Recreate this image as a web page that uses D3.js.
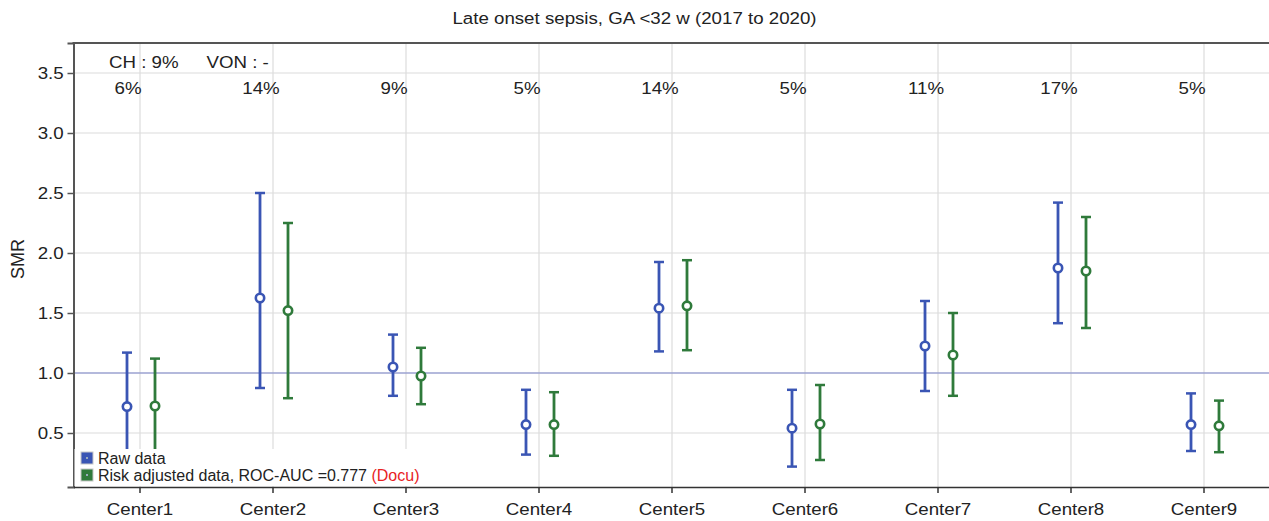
<!DOCTYPE html>
<html><head><meta charset="utf-8">
<script src="https://cdn.jsdelivr.net/npm/d3@7"></script>
<style>
body{margin:0;background:#fff;}
text{font-family:"Liberation Sans",Arial,sans-serif;fill:#222;}
</style></head>
<body>
<svg id="chart" width="1269" height="521"></svg>
<script>
const categories = ["Center1","Center2","Center3","Center4","Center5","Center6","Center7","Center8","Center9"];
const rawSMR   = [0.72, 1.625, 1.05, 0.57, 1.54, 0.54, 1.225, 1.875, 0.57];
const rawLow   = [0.30, 0.875, 0.81, 0.32, 1.18, 0.22, 0.85, 1.415, 0.35];
const rawHigh  = [1.17, 2.50, 1.32, 0.86, 1.925, 0.86, 1.60, 2.42, 0.83];
const adjSMR   = [0.725, 1.52, 0.975, 0.57, 1.56, 0.575, 1.15, 1.85, 0.56];
const adjLow   = [0.30, 0.79, 0.74, 0.31, 1.19, 0.275, 0.81, 1.375, 0.34];
const adjHigh  = [1.12, 2.25, 1.21, 0.84, 1.94, 0.90, 1.50, 2.30, 0.77];
const pctLabels = ["6%","14%","9%","5%","14%","5%","11%","17%","5%"];
const yTicks = [0.5,1.0,1.5,2.0,2.5,3.0,3.5];

const svg = d3.select("#chart");
const pLeft = 73.5, pTop = 43, pBottom = 487, pRight = 1270.5;
const FS = 17, SX = 1.1;

const x = d3.scaleBand().domain(categories).range([pLeft, pRight]);
const y = d3.scaleLinear().domain([0.05, 3.75]).range([pBottom, pTop]);
const cx = c => x(c) + x.bandwidth()/2;

function label(px, py, str, anchor, size, sx){
  return svg.append("g").attr("transform",`translate(${px},${py})`)
    .append("text").attr("text-anchor", anchor||"start")
    .attr("transform",`scale(${sx||SX},1)`)
    .style("font-size",(size||FS)+"px").attr("xml:space","preserve").text(str);
}

// title
label(634.5, 24, "Late onset sepsis, GA <32 w (2017 to 2020)", "middle");

// gridlines
svg.append("g").selectAll("line").data(yTicks).join("line")
  .attr("x1", pLeft).attr("x2", pRight).attr("y1", d=>y(d)).attr("y2", d=>y(d))
  .attr("stroke","#dcdcdc").attr("stroke-width",1.2);
svg.append("g").selectAll("line").data(categories).join("line")
  .attr("x1", d=>cx(d)).attr("x2", d=>cx(d)).attr("y1", pTop).attr("y2", pBottom)
  .attr("stroke","#dcdcdc").attr("stroke-width",1.2);

// reference line at 1
svg.append("line").attr("x1", pLeft).attr("x2", pRight).attr("y1", y(1)).attr("y2", y(1))
  .attr("stroke","#7d86cc").attr("stroke-width",1.2);

// axes
const yAxis = d3.axisLeft(y).tickValues(yTicks).tickFormat(d3.format(".1f")).tickSize(6).tickPadding(3);
const gy = svg.append("g").attr("transform",`translate(${pLeft},0)`).call(yAxis);
gy.select(".domain").attr("stroke","#555").attr("stroke-width",2);
gy.selectAll(".tick line").attr("stroke","#555").attr("stroke-width",1.5);
gy.selectAll(".tick text").style("font-size",FS+"px").style("font-family","Liberation Sans, Arial, sans-serif")
  .attr("fill","#222").attr("transform",`scale(${SX},1)`);

const xAxis = d3.axisBottom(x).tickSize(6).tickPadding(10).tickSizeOuter(0);
const gx = svg.append("g").attr("transform",`translate(0,${pBottom})`).call(xAxis);
gx.select(".domain").attr("stroke","#333").attr("stroke-width",1.5);
gx.selectAll(".tick line").attr("stroke","#333").attr("stroke-width",1.5);
gx.selectAll(".tick text").style("font-size",FS+"px").style("font-family","Liberation Sans, Arial, sans-serif")
  .attr("fill","#222").attr("transform",`scale(${SX},1)`);

// top border
svg.append("line").attr("x1", pLeft-1).attr("x2", pRight).attr("y1", pTop).attr("y2", pTop)
  .attr("stroke","#555").attr("stroke-width",2);

// y label
svg.append("text").attr("transform",`translate(24,259) rotate(-90)`)
  .attr("text-anchor","middle").style("font-size","18px").text("SMR");

// annotations
label(109, 67.5, "CH : 9%", "start");
label(206.5, 67.5, "VON : -", "start");
categories.forEach((c,i)=>label(cx(c)-12, 94, pctLabels[i], "middle"));

// error bars
function drawSeries(vals, lows, highs, offset, color){
  const g = svg.append("g");
  const data = categories.map((c,i)=>({c, v:vals[i], lo:lows[i], hi:highs[i]}));
  g.selectAll("line.v").data(data).join("line").attr("class","v")
    .attr("x1", d=>cx(d.c)+offset).attr("x2", d=>cx(d.c)+offset)
    .attr("y1", d=>y(d.lo)).attr("y2", d=>y(d.hi))
    .attr("stroke", color).attr("stroke-width",2.8);
  ["lo","hi"].forEach(k=>{
    g.selectAll("line."+k).data(data).join("line").attr("class",k)
      .attr("x1", d=>cx(d.c)+offset-5).attr("x2", d=>cx(d.c)+offset+5)
      .attr("y1", d=>y(d[k])).attr("y2", d=>y(d[k]))
      .attr("stroke", color).attr("stroke-width",2.5);
  });
  g.selectAll("circle").data(data).join("circle")
    .attr("cx", d=>cx(d.c)+offset).attr("cy", d=>y(d.v)).attr("r",4.2)
    .attr("fill","#fff").attr("stroke", color).attr("stroke-width",2.6);
}
drawSeries(rawSMR, rawLow, rawHigh, -13, "#3a55b4");
drawSeries(adjSMR, adjLow, adjHigh, 15, "#2f7a3b");

// legend
const lg = svg.append("g");
lg.append("rect").attr("x", pLeft+1).attr("y", 449).attr("width", 348).attr("height", pBottom-449-1)
  .attr("fill","#fff");
const legendItems = [
  {color:"#3a55b4", y:458},
  {color:"#2f7a3b", y:475}
];
legendItems.forEach(it=>{
  lg.append("rect").attr("x",81).attr("y",it.y-6).attr("width",12).attr("height",12)
    .attr("fill",it.color).attr("stroke","#c8c8c8").attr("stroke-width",1);
  lg.append("rect").attr("x",86).attr("y",it.y-1).attr("width",2).attr("height",2).attr("fill","#9ab");
});
lg.append("text").attr("x",98).attr("y",463.5).style("font-size","16px").text("Raw data");
const t2 = lg.append("text").attr("x",98).attr("y",480.5).style("font-size","16px").attr("xml:space","preserve");
t2.append("tspan").text("Risk adjusted data, ROC-AUC =0.777 ");
t2.append("tspan").style("fill","#e8231f").text("(Docu)");
</script>
</body></html>
